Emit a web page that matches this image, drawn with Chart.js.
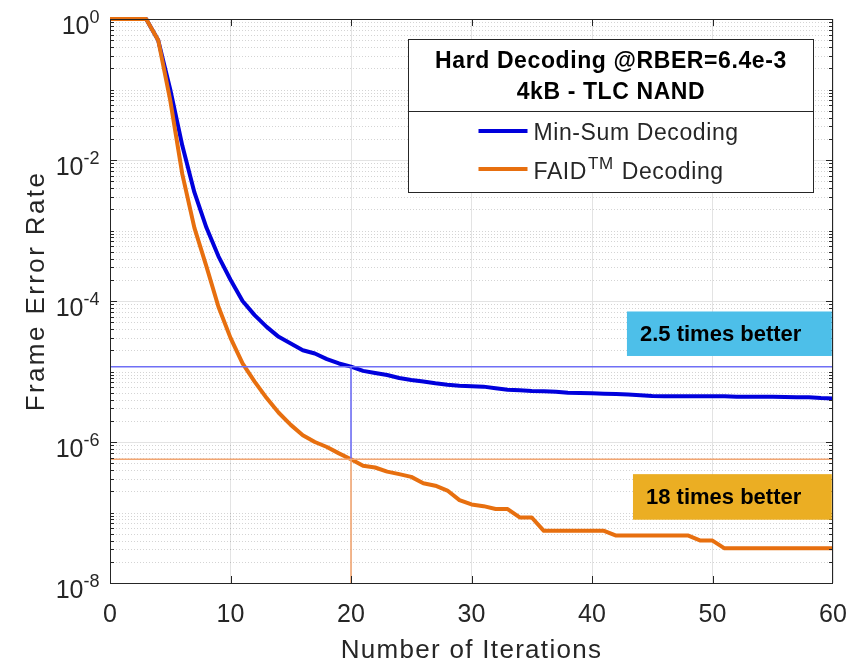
<!DOCTYPE html>
<html>
<head>
<meta charset="utf-8">
<script src="https://cdn.jsdelivr.net/npm/chart.js@4/dist/chart.umd.min.js"></script>
<style>
    html, body { margin: 0; padding: 0; background: #fff; }
    #wrap { width: 856px; height: 663px; }
</style>
</head>
<body>
<div id="wrap"><canvas id="chart" width="856" height="663"></canvas></div>
<script>
// iterations 0..60
var iterations = [0, 1, 2, 3, 4, 5, 6, 7, 8, 9, 10, 11, 12, 13, 14, 15, 16, 17, 18, 19, 20,
    21, 22, 23, 24, 25, 26, 27, 28, 29, 30, 31, 32, 33, 34, 35, 36, 37, 38, 39, 40,
    41, 42, 43, 44, 45, 46, 47, 48, 49, 50, 51, 52, 53, 54, 55, 56, 57, 58, 59, 60];

// frame error rate
var minSumFer = [1, 1, 1, 1, 0.5, 0.1, 1.6e-2, 3.5e-3, 1.1e-3, 4.3e-4, 2.0e-4,
    1.0e-4, 6.3e-5, 4.3e-5, 3.1e-5, 2.5e-5, 2.0e-5, 1.8e-5, 1.5e-5, 1.3e-5, 1.17e-5,
    1.02e-5, 9.5e-6, 8.9e-6, 8.1e-6, 7.6e-6, 7.2e-6, 6.8e-6, 6.5e-6, 6.3e-6, 6.2e-6,
    6.1e-6, 5.8e-6, 5.5e-6, 5.4e-6, 5.3e-6, 5.25e-6, 5.15e-6, 5.0e-6, 4.95e-6, 4.9e-6,
    4.85e-6, 4.8e-6, 4.7e-6, 4.6e-6, 4.5e-6, 4.45e-6, 4.45e-6, 4.45e-6, 4.45e-6, 4.45e-6,
    4.45e-6, 4.4e-6, 4.4e-6, 4.4e-6, 4.4e-6, 4.35e-6, 4.3e-6, 4.3e-6, 4.2e-6, 4.15e-6];

var faidFer = [1, 1, 1, 1, 0.5, 7e-2, 6.3e-3, 1.1e-3, 3.1e-4, 8.3e-5, 3.0e-5,
    1.3e-5, 7.2e-6, 4.2e-6, 2.6e-6, 1.75e-6, 1.25e-6, 1.0e-6, 8.5e-7, 6.9e-7, 5.7e-7,
    4.6e-7, 4.35e-7, 3.8e-7, 3.5e-7, 3.2e-7, 2.6e-7, 2.4e-7, 2.05e-7, 1.5e-7, 1.3e-7,
    1.23e-7, 1.12e-7, 1.12e-7, 8.5e-8, 8.5e-8, 5.5e-8, 5.5e-8, 5.5e-8, 5.5e-8, 5.5e-8,
    5.5e-8, 4.7e-8, 4.7e-8, 4.7e-8, 4.7e-8, 4.7e-8, 4.7e-8, 4.7e-8, 4.0e-8, 4.0e-8,
    3.1e-8, 3.1e-8, 3.1e-8, 3.1e-8, 3.1e-8, 3.1e-8, 3.1e-8, 3.1e-8, 3.1e-8, 3.1e-8];

// reference levels at iteration 20
var markIteration = 20;
var minSumAtMark = 1.17e-5;
var faidAtMark = 5.7e-7;

var xTicks = [0, 10, 20, 30, 40, 50, 60];
var yTickExponents = [0, -2, -4, -6, -8];

var legendTitle = ['Hard Decoding @RBER=6.4e-3', '4kB - TLC NAND'];
var seriesNames = ['Min-Sum Decoding', 'FAID'];
var notes = ['2.5 times better', '18 times better'];

var fontName = '"Liberation Sans", Arial, Helvetica, sans-serif';
var textColor = '#262626';
var blue = '#0000dc';
var orange = '#e76f0f';
var blueRef = '#6f6ff5';
var orangeRef = '#f2a672';

function pairs(xs, ys) {
    var out = [];
    for (var i = 0; i < xs.length; i++) {
        out.push({x: xs[i], y: ys[i]});
    }
    return out;
}

function refLine(points, color) {
    return {
        data: points,
        borderColor: color,
        borderWidth: 1.6,
        pointRadius: 0,
        fill: false,
        clip: false
    };
}

// minor grid, inward ticks, frame, labels, legend and notes (MATLAB look)
var decorPlugin = {
    id: 'decor',
    beforeDatasetsDraw: function(chart) {
        var ctx = chart.ctx;
        var area = chart.chartArea;
        var ys = chart.scales.y;
        ctx.save();
        ctx.strokeStyle = 'rgba(0,0,0,0.17)';
        ctx.lineWidth = 1;
        ctx.setLineDash([1, 2]);
        for (var k = -8; k < 0; k++) {
            for (var m = 2; m <= 10; m++) {
                if (m === 10 && (k + 1) % 2 === 0) {
                    continue;
                }
                var py = Math.round(ys.getPixelForValue(m * Math.pow(10, k))) + 0.5;
                ctx.beginPath();
                ctx.moveTo(area.left, py);
                ctx.lineTo(area.right, py);
                ctx.stroke();
            }
        }
        ctx.restore();
    },
    afterDatasetsDraw: function(chart) {
        var ctx = chart.ctx;
        var area = chart.chartArea;
        var xs = chart.scales.x;
        var ys = chart.scales.y;
        var i, k, m, px, py;
        ctx.save();

        // frame
        ctx.strokeStyle = textColor;
        ctx.lineWidth = 1;
        ctx.strokeRect(Math.round(area.left) + 0.5, Math.round(area.top) + 0.5,
            Math.round(area.right - area.left) - 1, Math.round(area.bottom - area.top));

        // inward ticks
        ctx.beginPath();
        for (i = 1; i < xTicks.length - 1; i++) {
            px = Math.round(xs.getPixelForValue(xTicks[i])) + 0.5;
            ctx.moveTo(px, area.bottom);
            ctx.lineTo(px, area.bottom - 7);
            ctx.moveTo(px, area.top);
            ctx.lineTo(px, area.top + 7);
        }
        for (k = -8; k < 0; k++) {
            for (m = 2; m <= 10; m++) {
                var len = (m === 10 && (k + 1) % 2 === 0) ? 7 : 4;
                py = Math.round(ys.getPixelForValue(m * Math.pow(10, k))) + 0.5;
                ctx.moveTo(area.left, py);
                ctx.lineTo(area.left + len, py);
                ctx.moveTo(area.right, py);
                ctx.lineTo(area.right - len, py);
            }
        }
        ctx.stroke();

        // y tick labels 10^n
        ctx.fillStyle = textColor;
        ctx.textBaseline = 'alphabetic';
        for (i = 0; i < yTickExponents.length; i++) {
            py = ys.getPixelForValue(Math.pow(10, yTickExponents[i]));
            var sup = String(yTickExponents[i]);
            ctx.font = '18px ' + fontName;
            var supW = ctx.measureText(sup).width;
            var right = area.left - 10.5;
            ctx.textAlign = 'left';
            ctx.fillText(sup, right - supW, py + 3.5);
            ctx.font = '25px ' + fontName;
            ctx.textAlign = 'right';
            ctx.fillText('10', right - supW, py + 15);
        }

        // axis titles
        ctx.font = '26px ' + fontName;
        ctx.textAlign = 'center';
        ctx.letterSpacing = '1.3px';
        ctx.fillText('Number of Iterations', (area.left + area.right) / 2, 658);
        ctx.save();
        ctx.translate(44, (area.top + area.bottom) / 2 - 10);
        ctx.rotate(-Math.PI / 2);
        ctx.letterSpacing = '2.4px';
        ctx.fillText('Frame Error Rate', 0, 0);
        ctx.restore();
        ctx.letterSpacing = '0px';

        // notes
        var noteBoxes = [
            {x0: 42.9, x1: 59.9, y0: 7.1e-5, y1: 1.66e-5, color: '#4dbfe9'},
            {x0: 43.4, x1: 59.9, y0: 3.5e-7, y1: 7.9e-8, color: '#ebae23'}
        ];
        ctx.font = 'bold 22px ' + fontName;
        ctx.textAlign = 'left';
        ctx.textBaseline = 'middle';
        for (i = 0; i < noteBoxes.length; i++) {
            var b = noteBoxes[i];
            var bx0 = xs.getPixelForValue(b.x0), bx1 = xs.getPixelForValue(b.x1);
            var by0 = ys.getPixelForValue(b.y0), by1 = ys.getPixelForValue(b.y1);
            ctx.fillStyle = b.color;
            ctx.fillRect(bx0, by0, bx1 - bx0, by1 - by0);
            ctx.fillStyle = '#000';
            ctx.fillText(notes[i], bx0 + 13, (by0 + by1) / 2 + 1);
        }

        // legend box
        var lx0 = area.left + 298.5, lx1 = area.right - 19.5;
        var ly0 = area.top + 20.5, ly1 = area.top + 173.5, lmid = area.top + 92.5;
        ctx.fillStyle = '#fff';
        ctx.fillRect(lx0, ly0, lx1 - lx0, ly1 - ly0);
        ctx.strokeStyle = textColor;
        ctx.lineWidth = 1;
        ctx.strokeRect(lx0, ly0, lx1 - lx0, ly1 - ly0);
        ctx.beginPath();
        ctx.moveTo(lx0, lmid);
        ctx.lineTo(lx1, lmid);
        ctx.stroke();

        var lcx = (lx0 + lx1) / 2;
        ctx.fillStyle = '#000';
        ctx.textBaseline = 'alphabetic';
        ctx.textAlign = 'center';
        ctx.font = 'bold 23px ' + fontName;
        ctx.letterSpacing = '0.6px';
        ctx.fillText(legendTitle[0], lcx, area.top + 49);
        ctx.fillText(legendTitle[1], lcx, area.top + 80);

        var sampleX = lx0 + 70;
        var rows = [{y: area.top + 112, color: blue}, {y: area.top + 150, color: orange}];
        ctx.lineWidth = 4;
        for (i = 0; i < rows.length; i++) {
            ctx.strokeStyle = rows[i].color;
            ctx.beginPath();
            ctx.moveTo(sampleX, rows[i].y);
            ctx.lineTo(sampleX + 49, rows[i].y);
            ctx.stroke();
        }
        ctx.fillStyle = textColor;
        ctx.textAlign = 'left';
        ctx.font = '23px ' + fontName;
        ctx.letterSpacing = '0.6px';
        var tx = sampleX + 55;
        ctx.fillText(seriesNames[0], tx, rows[0].y + 9);
        ctx.fillText(seriesNames[1], tx, rows[1].y + 10);
        var faidW = ctx.measureText(seriesNames[1]).width;
        ctx.font = '17px ' + fontName;
        ctx.fillText('TM', tx + faidW + 1, rows[1].y);
        var tmW = ctx.measureText('TM').width;
        ctx.font = '23px ' + fontName;
        ctx.fillText(' Decoding', tx + faidW + tmW + 2, rows[1].y + 10);

        ctx.restore();
    }
};

var ctx = document.getElementById('chart').getContext('2d');
var chart = new Chart(ctx, {
    type: 'line',
    data: {
        datasets: [
            refLine([{x: 0, y: minSumAtMark}, {x: 60, y: minSumAtMark}], blueRef),
            refLine([{x: 0, y: faidAtMark}, {x: 60, y: faidAtMark}], orangeRef),
            refLine([{x: markIteration, y: minSumAtMark}, {x: markIteration, y: faidAtMark}], blueRef),
            refLine([{x: markIteration, y: faidAtMark}, {x: markIteration, y: 1e-8}], orangeRef),
            {
                label: 'FAID Decoding',
                data: pairs(iterations, faidFer),
                borderColor: orange,
                borderWidth: 4,
                pointRadius: 0,
                borderJoinStyle: 'round',
                tension: 0,
                clip: false
            },
            {
                label: 'Min-Sum Decoding',
                data: pairs(iterations, minSumFer),
                borderColor: blue,
                borderWidth: 4,
                pointRadius: 0,
                borderJoinStyle: 'round',
                tension: 0,
                clip: false
            }
        ]
    },
    options: {
        responsive: false,
        animation: false,
        devicePixelRatio: 1,
        layout: {padding: {top: 19, right: 23, left: 0, bottom: 0}},
        plugins: {
            legend: {display: false},
            tooltip: {enabled: false}
        },
        scales: {
            x: {
                type: 'linear',
                min: 0,
                max: 60,
                afterBuildTicks: function(scale) {
                    scale.ticks = xTicks.map(function(v) { return {value: v}; });
                },
                afterFit: function(scale) {
                    scale.height = 80;
                    // labels may overhang the plot edges, as in the original
                    scale.paddingLeft = 0;
                    scale.paddingRight = 0;
                },
                ticks: {
                    font: {family: fontName, size: 25},
                    color: textColor,
                    padding: 17,
                    maxRotation: 0
                },
                grid: {color: '#e3e3e3', lineWidth: 1, drawTicks: false},
                border: {display: false}
            },
            y: {
                type: 'logarithmic',
                min: 1e-8,
                max: 1,
                afterBuildTicks: function(scale) {
                    scale.ticks = yTickExponents.map(function(e) { return {value: Math.pow(10, e)}; });
                },
                afterFit: function(scale) {
                    scale.width = 110;
                },
                ticks: {display: false},
                grid: {color: '#e3e3e3', lineWidth: 1, drawTicks: false},
                border: {display: false}
            }
        }
    },
    plugins: [decorPlugin]
});
</script>
</body>
</html>
